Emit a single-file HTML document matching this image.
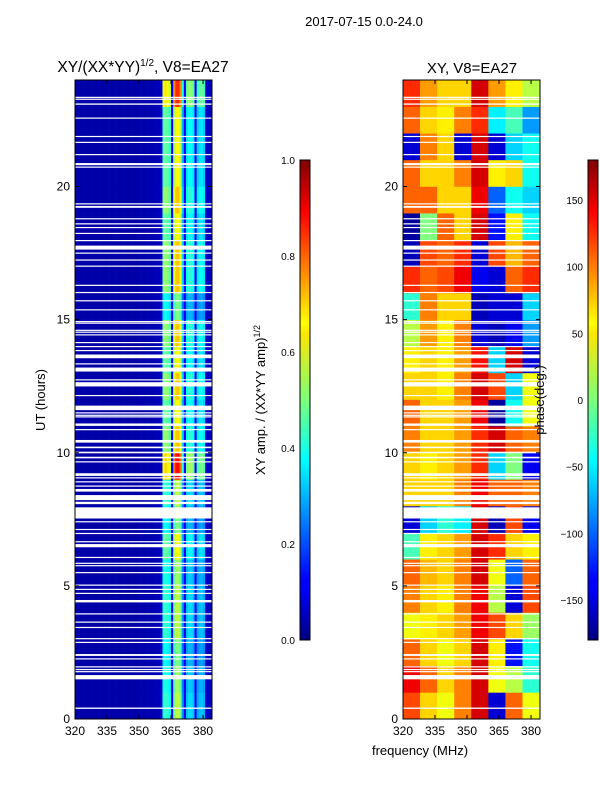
<!DOCTYPE html>
<html><head><meta charset="utf-8"><style>
body{margin:0;background:#fff;}
svg{display:block;font-family:"Liberation Sans","DejaVu Sans",sans-serif;}
</style></head><body>
<svg id="fig" width="600" height="800" viewBox="0 0 600 800" xmlns="http://www.w3.org/2000/svg">
<defs>
<linearGradient id="jet" x1="0" y1="1" x2="0" y2="0">
<stop offset="0" stop-color="#00007f"/><stop offset="0.11" stop-color="#0000ff"/><stop offset="0.125" stop-color="#0000ff"/>
<stop offset="0.34" stop-color="#00dcff"/><stop offset="0.375" stop-color="#00ffff"/><stop offset="0.5" stop-color="#7cff79"/>
<stop offset="0.64" stop-color="#ffe600"/><stop offset="0.66" stop-color="#ffff00"/><stop offset="0.89" stop-color="#ff0000"/><stop offset="1" stop-color="#7f0000"/>
</linearGradient>
</defs>
<text x="364" y="26" font-size="13" text-anchor="middle">2017-07-15 0.0-24.0</text>
<text x="143" y="72" font-size="15.5" text-anchor="middle">XY/(XX*YY)<tspan font-size="10" dy="-6">1/2</tspan><tspan dy="6">, V8=EA27</tspan></text>
<text x="472" y="73" font-size="15" text-anchor="middle">XY, V8=EA27</text>
<g id="ampPanel"></g>
<g id="phPanel"></g>
<g id="axes"></g>
<rect x="300" y="160" width="10" height="480" fill="url(#jet)" stroke="#000" stroke-width="1"/>
<rect x="588" y="160" width="10" height="480" fill="url(#jet)" stroke="#000" stroke-width="1"/>
<text transform="translate(45,400) rotate(-90)" font-size="13" text-anchor="middle">UT (hours)</text>
<text transform="translate(265,400) rotate(-90)" font-size="13" text-anchor="middle">XY amp. / (XX*YY amp)<tspan font-size="9" dy="-5">1/2</tspan></text>
<text transform="translate(544,400) rotate(-90)" font-size="13" text-anchor="middle">phase(deg.)</text>
<text x="420" y="755" font-size="13" text-anchor="middle">frequency (MHz)</text>
</svg>
<script>
// ---- data ----
const xTicks = [320, 335, 350, 365, 380];
const yTicks = [0, 5, 10, 15, 20];
const ampTicks = [0.0, 0.2, 0.4, 0.6, 0.8, 1.0];
const phaseTicks = [-150, -100, -50, 0, 50, 100, 150];
// amplitude spectral profile, 1 MHz bins 320..383
const ampProfile = [0.04,0.04,0.04,0.04,0.04,0.04,0.04,0.04,0.04,0.04,0.04,0.04,0.04,0.04,0.04,0.04,0.04,0.04,0.04,0.04,
 0.04,0.04,0.04,0.04,0.04,0.04,0.04,0.04,0.04,0.04,0.045,0.045,0.045,0.045,0.045,0.05,0.05,0.05,0.05,0.06,0.08,
 0.45,0.48,0.45,0.42,0.12,0.55,0.62,0.62,0.55,0.3,0.12,0.35,0.38,0.38,0.35,0.12,0.32,0.35,0.35,0.32,0.07,0.06,0.06];
// hourly scaling of the bright band, hours 0..23
const ampHourFactor = [0.9,0.85,0.8,0.9,0.9,0.85,1.0,0.8,0.9,1.4,1.1,1.0,1.1,1.0,1.1,0.8,1.1,1.1,1.0,1.1,1.0,1.0,1.0,1.35];
// phase grid: 8 columns (8 MHz each), rows hour 0..23
const phaseCols = [320,328,336,344,352,360,368,376];
const phaseGrid = [
 [110,60,40,90,150,-150,100,40],
 [140,100,60,90,150,40,20,-30],
 [100,60,40,60,150,50,-130,-40],
 [40,50,60,80,140,110,60,10],
 [90,60,50,90,140,20,-150,110],
 [100,70,60,90,150,40,-100,100],
 [-20,50,60,80,150,120,60,50],
 [-150,-60,-30,-50,150,-160,110,-140],
 [60,60,60,90,140,100,100,90],
 [60,50,60,80,120,-60,0,-140],
 [90,60,60,80,120,150,100,90],
 [100,60,60,80,140,-170,-40,40],
 [60,60,50,90,150,110,-60,40],
 [50,60,50,80,130,-60,150,-150],
 [20,80,50,90,-150,-160,-140,-80],
 [-30,90,60,60,-160,-150,-150,-60],
 [120,100,110,140,-140,-150,100,120],
 [-160,110,100,120,-150,110,70,100],
 [-170,0,100,60,150,-130,50,-40],
 [100,100,60,60,140,-100,-40,-60],
 [100,60,60,90,150,50,60,-40],
 [-150,90,60,-150,150,-150,-60,-40],
 [100,60,50,90,120,-50,-20,-80],
 [120,80,60,60,150,80,50,20]];
// flagged (blank) time ranges, hours
const gaps = [[0.38,0.43],[1.49,1.65],[1.76,1.8],[1.84,1.88],[1.94,1.98],[2.24,2.28],[2.37,2.44],[2.86,2.9],[3.0,3.04],
 [3.42,3.46],[3.62,3.66],[3.93,3.97],[4.38,4.47],[4.7,4.74],[4.85,4.89],[5.01,5.05],[5.48,5.52],[5.74,5.78],[5.83,5.87],
 [6.05,6.09],[6.45,6.57],[6.64,6.68],[6.95,6.99],[7.1,7.14],[7.39,7.43],[7.53,7.95],[8.07,8.16],[8.22,8.41],[8.54,8.64],
 [8.73,8.77],[8.89,8.93],[9.04,9.08],[9.13,9.23],[9.64,9.68],[9.79,9.85],[9.98,10.04],[10.17,10.23],[10.38,10.48],
 [10.85,10.89],[11.01,11.1],[11.33,11.37],[11.39,11.43],[11.48,11.52],[11.6,11.77],[12.13,12.17],[12.49,12.65],[12.72,12.76],
 [13.05,13.2],[13.32,13.36],[13.55,13.69],[13.82,13.86],[13.97,14.01],[14.12,14.16],[14.41,14.45],[14.51,14.55],[14.58,14.62],
 [14.85,14.89],[14.91,14.95],[15.35,15.39],[15.69,15.73],[16.0,16.04],[16.27,16.31],[16.99,17.03],[17.22,17.26],[17.48,17.52],
 [17.63,17.78],[17.95,17.99],[18.22,18.26],[18.44,18.48],[18.58,18.62],[18.77,18.81],[19.2,19.27],[19.33,19.37],[20.71,20.75],
 [20.8,20.88],[21.18,21.22],[21.64,21.68],[21.86,21.9],[22.55,22.59],[23.07,23.12],[23.26,23.3],[23.33,23.37]];

// ---- helpers ----
const NS = 'http://www.w3.org/2000/svg';
function jet(v){v=Math.max(0,Math.min(1,v));
 const f=t=>Math.max(0,Math.min(1,t));
 const r=f(1.5-Math.abs(4*v-3)), g=f(1.5-Math.abs(4*v-2)), b=f(1.5-Math.abs(4*v-1));
 return 'rgb('+Math.round(r*255)+','+Math.round(g*255)+','+Math.round(b*255)+')';}
function mk(tag, attrs, parent){const e=document.createElementNS(NS,tag);for(const k in attrs)e.setAttribute(k,attrs[k]);parent.appendChild(e);return e;}
const Y0=719, Y1=80, FMIN=320, FMAX=384.2;
function yScale(h){return Y0-(h/24)*(Y0-Y1);}
function xScaleL(f){return 75+(f-FMIN)/(FMAX-FMIN)*137;}
function xScaleR(f){return 403+(f-FMIN)/(FMAX-FMIN)*137;}

const ampG=document.getElementById('ampPanel');
for(let h=0;h<24;h++){
 for(let i=0;i<ampProfile.length;i++){
  let a=ampProfile[i]; if(a>0.2) a=a*ampHourFactor[h];
  const x0=xScaleL(FMIN+i), x1=xScaleL(FMIN+i+1);
  const r=mk('rect',{x:x0,y:yScale(h+1),width:x1-x0+0.3,height:yScale(h)-yScale(h+1)+0.3,fill:jet(a)},ampG);
  
  
 }
}
const phG=document.getElementById('phPanel');
for(let h=0;h<24;h++){
 for(let c=0;c<phaseCols.length;c++){
  const f0=phaseCols[c], f1=(c+1<phaseCols.length)?phaseCols[c+1]:FMAX;
  const x0=xScaleR(f0), x1=xScaleR(f1);
  const r=mk('rect',{x:x0,y:yScale(h+1),width:x1-x0+0.3,height:yScale(h)-yScale(h+1)+0.3,fill:jet((phaseGrid[h][c]+180)/360)},phG);
  
  
 }
}
const ax=document.getElementById('axes');
[[75,xScaleL],[403,xScaleR]].forEach(([left,xs])=>{
 gaps.forEach(g=>{
  const r=mk('rect',{x:left,y:yScale(g[1]),width:137,height:Math.max(1.2,yScale(g[0])-yScale(g[1])),fill:'#fff'},ax);
  
  
 });
 const fr=mk('rect',{x:left,y:Y1,width:137,height:Y0-Y1,fill:'none',stroke:'#000','stroke-width':1},ax);
 
 
 xTicks.forEach(t=>{
  const x=xs(t);
  mk('line',{x1:x,x2:x,y1:Y0,y2:Y0-4,stroke:'#000'},ax);
  mk('line',{x1:x,x2:x,y1:Y1,y2:Y1+4,stroke:'#000'},ax);
  const tx=mk('text',{x:x,y:Y0+16,'font-size':12,'text-anchor':'middle'},ax);
  tx.textContent=t;
  
  
 });
 yTicks.forEach(t=>{
  const y=yScale(t);
  mk('line',{x1:left,x2:left+4,y1:y,y2:y,stroke:'#000'},ax);
  mk('line',{x1:left+137,x2:left+133,y1:y,y2:y,stroke:'#000'},ax);
  const tx=mk('text',{x:left-5,y:y+4,'font-size':12,'text-anchor':'end'},ax);
  tx.textContent=t;
  
  
 });
});
ampTicks.forEach(t=>{
 const y=640-t*480;
 const tx=mk('text',{x:295,y:y+4,'font-size':10,'text-anchor':'end'},ax);
 tx.textContent=t.toFixed(1);
 
 
});
phaseTicks.forEach(t=>{
 const y=640-(t+180)/360*480;
 mk('line',{x1:588,x2:592,y1:y,y2:y,stroke:'#000'},ax);
 const tx=mk('text',{x:583,y:y+4,'font-size':10,'text-anchor':'end'},ax);
 tx.textContent=t<0?'\u2212'+Math.abs(t):t;
 
 
});
</script>
</body></html>
